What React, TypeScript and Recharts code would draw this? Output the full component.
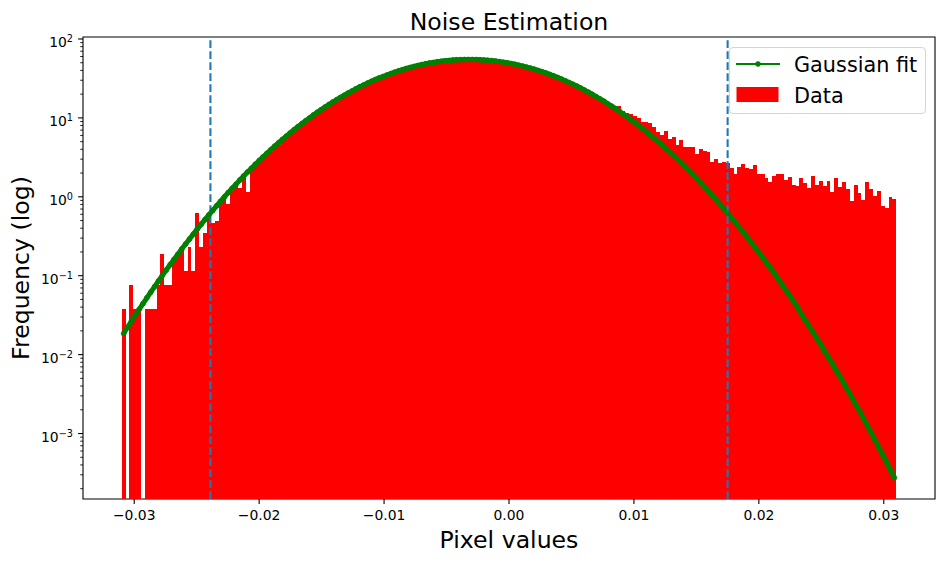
import React from "react";
import {
  ComposedChart,
  Bar,
  Line,
  XAxis,
  YAxis,
  ReferenceLine,
  ReferenceArea,
  Legend,
} from "recharts";

const FONT = "'DejaVu Sans', sans-serif";

const binCenters = [
  -0.030845, -0.030535, -0.030225, -0.029915, -0.029605, -0.029295, -0.028985, -0.028675, -0.028365, -0.028055,
  -0.027745, -0.027435, -0.027125, -0.026815, -0.026505, -0.026195, -0.025885, -0.025575, -0.025265, -0.024955,
  -0.024645, -0.024335, -0.024025, -0.023715, -0.023405, -0.023095, -0.022785, -0.022475, -0.022165, -0.021855,
  -0.021545, -0.021235, -0.020925, -0.020615, -0.020305, -0.019995, -0.019685, -0.019375, -0.019065, -0.018755,
  -0.018445, -0.018135, -0.017825, -0.017515, -0.017205, -0.016895, -0.016585, -0.016275, -0.015965, -0.015655,
  -0.015345, -0.015035, -0.014725, -0.014415, -0.014105, -0.013795, -0.013485, -0.013175, -0.012865, -0.012555,
  -0.012245, -0.011935, -0.011625, -0.011315, -0.011005, -0.010695, -0.010385, -0.010075, -0.009765, -0.009455,
  -0.009145, -0.008835, -0.008525, -0.008215, -0.007905, -0.007595, -0.007285, -0.006975, -0.006665, -0.006355,
  -0.006045, -0.005735, -0.005425, -0.005115, -0.004805, -0.004495, -0.004185, -0.003875, -0.003565, -0.003255,
  -0.002945, -0.002635, -0.002325, -0.002015, -0.001705, -0.001395, -0.001085, -0.000775, -0.000465, -0.000155,
  0.000155, 0.000465, 0.000775, 0.001085, 0.001395, 0.001705, 0.002015, 0.002325, 0.002635, 0.002945,
  0.003255, 0.003565, 0.003875, 0.004185, 0.004495, 0.004805, 0.005115, 0.005425, 0.005735, 0.006045,
  0.006355, 0.006665, 0.006975, 0.007285, 0.007595, 0.007905, 0.008215, 0.008525, 0.008835, 0.009145,
  0.009455, 0.009765, 0.010075, 0.010385, 0.010695, 0.011005, 0.011315, 0.011625, 0.011935, 0.012245,
  0.012555, 0.012865, 0.013175, 0.013485, 0.013795, 0.014105, 0.014415, 0.014725, 0.015035, 0.015345,
  0.015655, 0.015965, 0.016275, 0.016585, 0.016895, 0.017205, 0.017515, 0.017825, 0.018135, 0.018445,
  0.018755, 0.019065, 0.019375, 0.019685, 0.019995, 0.020305, 0.020615, 0.020925, 0.021235, 0.021545,
  0.021855, 0.022165, 0.022475, 0.022785, 0.023095, 0.023405, 0.023715, 0.024025, 0.024335, 0.024645,
  0.024955, 0.025265, 0.025575, 0.025885, 0.026195, 0.026505, 0.026815, 0.027125, 0.027435, 0.027745,
  0.028055, 0.028365, 0.028675, 0.028985, 0.029295, 0.029605, 0.029915, 0.030225, 0.030535, 0.030845,
];

const histogramValues = [
  0.038, null, 0.076, 0.038, 0.038, null, 0.038, 0.038, 0.038, 0.076,
  0.19, 0.076, 0.076, 0.152, 0.19, 0.228, 0.114, 0.228, 0.114, 0.62,
  0.228, 0.346, 0.56, 0.46, 0.49, 0.84, 0.95, 0.8, 1.2, 1.38,
  1.28, 1.75, 1.15, 2.2, 2.5, 2.75, 3.05, 3.4, 3.75, 4.15,
  4.6, 5.05, 5.55, 6.1, 6.7, 7.35, 8.0, 8.7, 9.5, 10.3,
  11.2, 12.0, 13.0, 14.1, 15.1, 16.1, 17.3, 18.4, 19.6, 20.9,
  22.2, 23.5, 24.9, 26.2, 27.6, 29.1, 30.5, 31.8, 33.2, 34.7,
  36.1, 37.5, 38.8, 40.2, 41.4, 42.6, 43.9, 45.0, 46.1, 47.1,
  48.0, 48.8, 49.6, 50.3, 50.8, 51.4, 51.8, 52.0, 52.2, 52.2,
  52.2, 52.1, 51.9, 51.5, 51.0, 50.5, 49.9, 49.1, 48.4, 47.4,
  46.5, 45.4, 44.3, 43.1, 41.9, 40.7, 39.3, 37.9, 36.6, 35.2,
  33.8, 32.4, 31.0, 29.5, 28.1, 26.7, 25.4, 24.0, 22.7, 21.4,
  20.1, 19.0, 17.9, 16.9, 15.9, 14.8, 14.1, 13.3, 14.3, 12.2,
  11.6, 11.3, 10.5, 10.0, 8.97, 8.97, 8.7, 7.7, 6.7, 6.15,
  6.9, 5.48, 5.8, 4.6, 5.3, 4.34, 4.34, 4.34, 3.44, 3.98,
  3.76, 3.66, 2.8, 2.98, 2.65, 2.8, 2.65, 2.29, 1.92, 2.36,
  2.57, 2.29, 2.22, 2.5, 1.92, 1.92, 1.71, 1.52, 1.82, 1.92,
  1.92, 1.62, 1.76, 1.4, 1.36, 1.71, 1.48, 1.28, 1.82, 1.4,
  1.57, 1.36, 1.57, 1.14, 1.71, 1.32, 1.52, 1.24, 0.88, 1.4,
  1.11, 0.9, 1.52, 1.24, 1.01, 1.2, 0.76, 0.72, 0.99, 0.95,
];

const gaussianFit = [
  0.0185, 0.0222, 0.0264, 0.0315, 0.0374, 0.0444, 0.0525, 0.0619, 0.0729, 0.0859,
  0.101, 0.118, 0.138, 0.161, 0.187, 0.218, 0.252, 0.292, 0.337, 0.389,
  0.448, 0.514, 0.589, 0.673, 0.768, 0.875, 0.994, 1.13, 1.28, 1.44,
  1.63, 1.83, 2.06, 2.3, 2.58, 2.88, 3.2, 3.56, 3.95, 4.38,
  4.84, 5.33, 5.87, 6.45, 7.07, 7.73, 8.44, 9.2, 10.0, 10.9,
  11.8, 12.7, 13.7, 14.8, 15.9, 17.0, 18.2, 19.4, 20.7, 22.0,
  23.4, 24.8, 26.2, 27.6, 29.1, 30.6, 32.1, 33.5, 35.0, 36.5,
  38.0, 39.5, 40.9, 42.3, 43.6, 44.9, 46.2, 47.4, 48.5, 49.6,
  50.5, 51.4, 52.2, 52.9, 53.5, 54.1, 54.5, 54.7, 54.9, 55.0,
  55.0, 54.8, 54.6, 54.2, 53.7, 53.2, 52.5, 51.7, 50.9, 49.9,
  48.9, 47.8, 46.6, 45.4, 44.1, 42.8, 41.4, 39.9, 38.5, 37.1,
  35.6, 34.1, 32.6, 31.1, 29.6, 28.1, 26.7, 25.3, 23.9, 22.5,
  21.2, 19.9, 18.6, 17.4, 16.3, 15.1, 14.1, 13.1, 12.1, 11.2,
  10.3, 9.48, 8.71, 7.98, 7.3, 6.66, 6.07, 5.52, 5.01, 4.54,
  4.1, 3.7, 3.33, 2.99, 2.68, 2.4, 2.14, 1.91, 1.7, 1.51,
  1.33, 1.18, 1.04, 0.916, 0.805, 0.706, 0.618, 0.54, 0.471, 0.409,
  0.355, 0.308, 0.266, 0.23, 0.198, 0.17, 0.146, 0.125, 0.107, 0.091,
  0.0774, 0.0657, 0.0557, 0.0471, 0.0397, 0.0325, 0.0273, 0.0229, 0.0192, 0.016,
  0.0134, 0.0111, 0.00922, 0.00762, 0.0063, 0.0052, 0.00427, 0.0035, 0.00287, 0.00234,
  0.00193, 0.00157, 0.00127, 0.00103, 0.00083, 0.000668, 0.000538, 0.000432, 0.000345, 0.000275,
];

const xTicks = [-0.03, -0.02, -0.01, 0, 0.01, 0.02, 0.03];
const xTickLabels = ["\u22120.03", "\u22120.02", "\u22120.01", "0.00", "0.01", "0.02", "0.03"];
const yDecades = [0.001, 0.01, 0.1, 1, 10, 100];
const yDecadeExponents = ["\u22123", "\u22122", "\u22121", "0", "1", "2"];
const yTicks = [
  0.0002, 0.0003, 0.0004, 0.0005, 0.0006, 0.0007, 0.0008, 0.0009, 0.001,
  0.002, 0.003, 0.004, 0.005, 0.006, 0.007, 0.008, 0.009, 0.01,
  0.02, 0.03, 0.04, 0.05, 0.06, 0.07, 0.08, 0.09, 0.1,
  0.2, 0.3, 0.4, 0.5, 0.6, 0.7, 0.8, 0.9, 1,
  2, 3, 4, 5, 6, 7, 8, 9, 10,
  20, 30, 40, 50, 60, 70, 80, 90, 100,
];
const thresholds = [-0.0239, 0.0175];

const X_MIN = -0.0341;
const X_MAX = 0.0341;
const Y_MIN = 0.000148;
const Y_MAX = 106;

const rows = binCenters.map((x, i) => ({
  x,
  data: histogramValues[i],
  fit: gaussianFit[i],
}));

function LogTick(props: any) {
  const { x, y, payload } = props;
  const idx = yDecades.indexOf(payload.value);
  const major = idx >= 0;
  return (
    <g>
      <line
        x1={x}
        x2={x - (major ? 4.9 : 2.8)}
        y1={y}
        y2={y}
        stroke="#000"
        strokeWidth={major ? 1.1 : 0.85}
      />
      {major && (
        <text x={x - 10} y={y + 8} textAnchor="end" fontFamily={FONT} fontSize={13.9} fill="#000">
          <tspan>10</tspan>
          <tspan dy={-5} fontSize={9.7}>
            {yDecadeExponents[idx]}
          </tspan>
        </text>
      )}
    </g>
  );
}

function FigureLegend() {
  return (
    <div
      style={{
        width: 197,
        height: 67,
        boxSizing: "border-box",
        border: "1.4px solid #d5d5d5",
        borderRadius: 4,
        background: "rgba(255,255,255,0.85)",
        position: "relative",
        fontFamily: FONT,
        fontSize: 20.8,
        color: "#000",
      }}
    >
      <svg width={60} height={60} style={{ position: "absolute", left: 0, top: 0 }}>
        <line x1={6} x2={50} y1={16} y2={16} stroke="#008000" strokeWidth={2} />
        <circle cx={28} cy={16} r={2.7} fill="#008000" />
        <rect x={6.5} y={39} width={42} height={15} fill="#ff0000" />
      </svg>
      <span style={{ position: "absolute", left: 64, top: 5, lineHeight: "24px", whiteSpace: "nowrap" }}>
        Gaussian fit
      </span>
      <span style={{ position: "absolute", left: 64, top: 35.5, lineHeight: "24px", whiteSpace: "nowrap" }}>
        Data
      </span>
    </div>
  );
}

export default function App() {
  return (
    <div style={{ position: "absolute", left: 0, top: 0, width: 945, height: 562, background: "#fff" }}>
      <ComposedChart
        width={945}
        height={562}
        data={rows}
        margin={{ top: 37, right: 10, bottom: 0, left: 0 }}
      >
        <XAxis
          dataKey="x"
          type="number"
          domain={[X_MIN, X_MAX]}
          allowDataOverflow
          ticks={xTicks}
          interval={0}
          height={63}
          tickSize={4.9}
          tickMargin={6}
          tickLine={{ stroke: "#000", strokeWidth: 1.1 }}
          axisLine={false}
          tickFormatter={(v: number) => xTickLabels[xTicks.indexOf(v)]}
          tick={{ fontFamily: FONT, fontSize: 13.9, fill: "#000" }}
          label={{
            value: "Pixel values",
            position: "insideBottom",
            offset: 14,
            fontFamily: FONT,
            fontSize: 23.6,
            fill: "#000",
          }}
        />
        <YAxis
          type="number"
          scale="log"
          domain={[Y_MIN, Y_MAX]}
          allowDataOverflow
          ticks={yTicks}
          interval={0}
          width={83}
          tickSize={0}
          tickMargin={0}
          tickLine={false}
          axisLine={false}
          tick={<LogTick />}
          label={{
            value: "Frequency (log)",
            angle: -90,
            position: "insideLeft",
            offset: 21,
            style: { textAnchor: "middle" },
            fontFamily: FONT,
            fontSize: 23.6,
            fill: "#000",
          }}
        />
        <Bar
          dataKey="data"
          fill="#ff0000"
          barSize={3.87}
          isAnimationActive={false}
          shapeRendering="crispEdges"
        />
        <Line
          dataKey="fit"
          stroke="#008000"
          strokeWidth={5}
          dot={{ r: 2.5, fill: "#008000", stroke: "#008000", strokeWidth: 0.6 }}
          activeDot={false}
          isAnimationActive={false}
        />
        {thresholds.map((t) => (
          <ReferenceLine key={t} x={t} stroke="#1f77b4" strokeWidth={2.08} strokeDasharray="7.7 3.3" />
        ))}
        <ReferenceArea
          x1={X_MIN}
          x2={X_MAX}
          y1={Y_MIN}
          y2={Y_MAX}
          fill="none"
          stroke="#000"
          strokeWidth={1.1}
          ifOverflow="visible"
          label={{
            value: "Noise Estimation",
            position: "top",
            offset: 7,
            fontFamily: FONT,
            fontSize: 23.6,
            fill: "#000",
          }}
        />
        <Legend
          layout="horizontal"
          verticalAlign="middle"
          content={<FigureLegend />}
          wrapperStyle={{ position: "absolute", left: 729, top: 47, width: 197, height: 67 }}
        />
      </ComposedChart>
    </div>
  );
}
